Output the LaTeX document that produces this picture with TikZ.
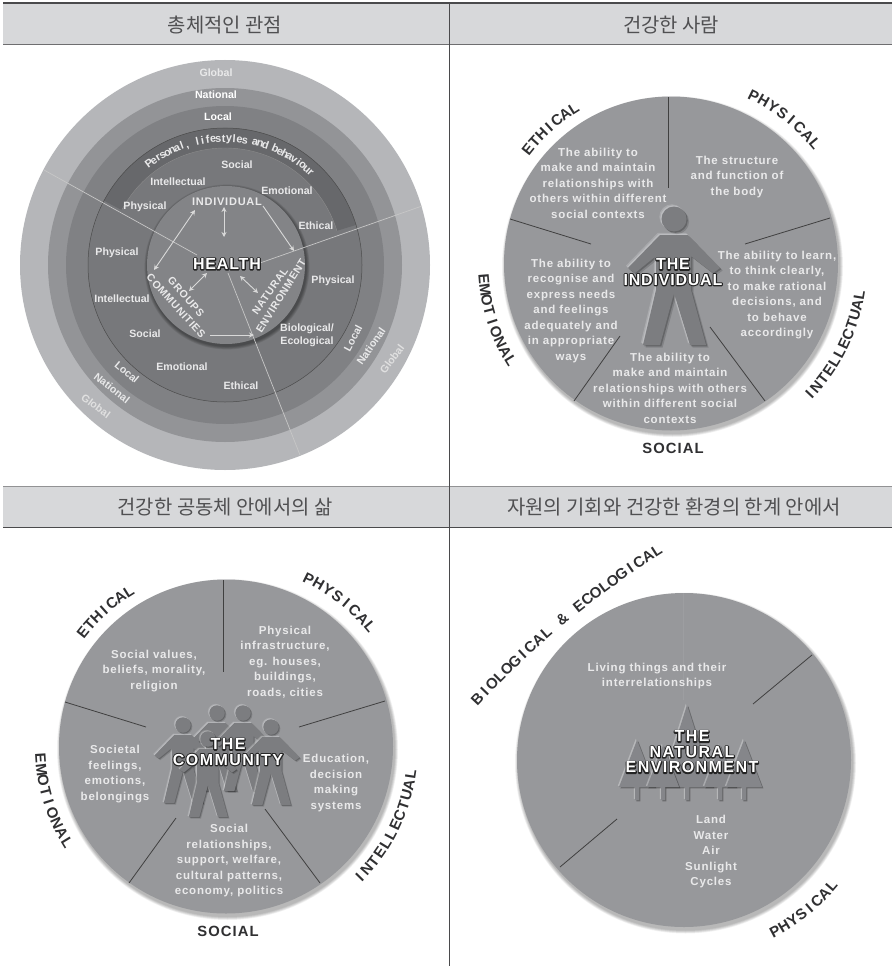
\documentclass[tikz,border=0pt]{standalone}
\usepackage{fontspec}
\usetikzlibrary{arrows.meta}
\setmainfont{Liberation Sans}
\newfontfamily\lab{Liberation Sans}
\newfontfamily\labs{Liberation Sans}[LetterSpace=7]
\newfontfamily\labh{Liberation Sans}[LetterSpace=9]
\newfontfamily\labm{Liberation Sans}[LetterSpace=5]
\newfontfamily\krf{Noto Sans CJK KR}
\definecolor{hdr}{HTML}{D7D8DA}
\definecolor{framec}{HTML}{4A4A4C}
\definecolor{krc}{HTML}{505052}
\definecolor{disc}{HTML}{97989B}
\definecolor{txtc}{HTML}{E9E9EA}
\definecolor{figc}{HTML}{7C7D80}
\definecolor{treec}{HTML}{85868A}
\definecolor{ringA}{HTML}{B5B6B9}
\definecolor{ringB}{HTML}{939497}
\definecolor{ringC}{HTML}{808184}
\definecolor{ringD}{HTML}{67686B}
\definecolor{ringE}{HTML}{77787B}
\definecolor{ringF}{HTML}{838487}
\definecolor{lblc}{HTML}{303032}
\tikzset{
  hdrtxt/.style={font=\krf\fontsize{19.9}{22}\selectfont,text=krc,inner sep=0},
  intxt/.style={font=\labs\bfseries\fontsize{11.5}{15.5}\selectfont,text=txtc,align=center,inner sep=0},
  smtxt/.style={font=\lab\bfseries\fontsize{10.6}{12.8}\selectfont,text=txtc,align=center,inner sep=0},
  captxt/.style={font=\lab\bfseries\fontsize{10.6}{13}\selectfont,text=white,align=center,inner sep=0},
  halotxt/.style={font=\labh\bfseries\fontsize{16}{15.5}\selectfont,text=white,align=center,inner sep=0},
  halotxtn/.style={font=\labm\bfseries\fontsize{16}{15.5}\selectfont,text=white,align=center,inner sep=0},
  outerlbl/.style={font=\labs\bfseries\fontsize{14.8}{15}\selectfont,text=lblc,inner sep=0},
  divider/.style={draw=black!75,line width=0.8pt},
  lightline/.style={draw=white!78!black,line width=0.7pt},
  arrow2/.style={draw=white!85!black,line width=0.9pt,{Stealth[length=5pt,width=5pt]}-{Stealth[length=5pt,width=5pt]}},
  arrow1/.style={draw=white!85!black,line width=0.9pt,-{Stealth[length=5pt,width=5pt]}},
}
\newcommand\shadedisc[4]{%
  \foreach \k in {7,6,5,4,3,2,1}{\fill[black,opacity=0.045] (#1+1.5,#2+3) circle[radius=#3+\k*0.5];}
  \fill[#4] (#1,#2) circle[radius=#3];
}
% letters on an arc: cx,cy,r,startangle,endangle,font,colour,comma list of letters
\newdimen\awtotal \newdimen\awpos \newcount\awn
\newcommand\arcword[8]{%
  \global\awtotal=0pt \global\awn=0
  \foreach \c in {#8}{\setbox0=\hbox{#6\c}\global\advance\awtotal by \wd0 \global\advance\awn by 1 }%
  \pgfmathsetmacro\awL{#3*(abs(#5-(#4))/180)*pi}%
  \pgfmathsetmacro\awT{\the\awtotal}%
  \pgfmathsetmacro\awgap{(\awL-\awT)/\the\awn}%
  \global\awpos=0pt
  \pgfmathsetmacro\awdir{(#5>#4)?90:-90}%
  \foreach \c [count=\ci] in {#8}{%
    \setbox0=\hbox{#6\c}%
    \pgfmathsetmacro\aww{\the\wd0}%
    \pgfmathsetmacro\aws{\the\awpos+\aww/2+\awgap*(\ci-0.5)}%
    \pgfmathsetmacro\awa{#4+(#5-(#4))*(\aws/\awL)}%
    \pgfmathsetmacro\awr{\awa+\awdir}%
    \node[inner sep=0,anchor=base,rotate=\awr,font=#6,text=#7] at ({#1+#3*cos(\awa)},{#2-#3*sin(\awa)}) {\c};
    \global\advance\awpos by \wd0
  }%
}
\newcommand\blb{\lab\bfseries\fontsize{15}{16}\selectfont}
\newcommand\personpath{(0,0) circle[radius=12.5]
  (-14,16)--(14,16)--(46,49)--(39,54)--(17,37)--(17,71)--(32,126)--(16,126)--(0,74)--(-14,126)--(-31,126)--(-18,71)--(-18,37)--(-39,54)--(-46,49)--cycle}
\newcommand\persona[3]{%
  \begin{scope}[shift={(#1,#2)},scale=#3]
    \fill[white,opacity=0.18,shift={(-2.2,-2.2)}] \personpath;
    \fill[white,opacity=0.22,shift={(-1.1,-1.1)}] \personpath;
    \fill[black,opacity=0.14,shift={(2.6,2.6)}] \personpath;
    \fill[black,opacity=0.22,shift={(1.3,1.3)}] \personpath;
    \fill[figc] \personpath;
  \end{scope}}
\newcommand\treeshape[4]{%
  \def\tp{(#1,#2)--(#1+#4,#3)--(#1+2,#3)--(#1+2,#3+13)--(#1-2,#3+13)--(#1-2,#3)--(#1-#4,#3)--cycle}%
  \fill[white,opacity=0.3,shift={(-1.2,-1.2)}] \tp;
  \fill[black,opacity=0.3,shift={(1.4,1.4)}] \tp;
  \fill[treec] \tp;
}
\newcommand\halo[1]{\rlap{\special{pdf:code 2 Tr 2.2 w 0.14 0.14 0.14 RG 0.14 0.14 0.14 rg 1 j}#1\special{pdf:code 0 Tr 0.4 w 0 j 1 1 1 rg}}#1}
\begin{document}
\begin{tikzpicture}[x=1pt,y=-1pt]
\useasboundingbox (0,0) rectangle (892,966);
\fill[white] (0,0) rectangle (892,966);
% ---------- headers and frame
\fill[hdr] (3,4) rectangle (892,44);
\fill[hdr] (3,486) rectangle (892,527);
\coordinate (tl) at (3,3); \coordinate (tr) at (892,3);
\coordinate (ml) at (3,44.5); \coordinate (mr) at (892,44.5);
\coordinate (nl) at (3,486); \coordinate (nr) at (892,486);
\coordinate (ol) at (3,527.5); \coordinate (or) at (892,527.5);
\coordinate (vt) at (449,3); \coordinate (vb) at (449,966);
\draw[framec,line width=1.1pt] (tl)--(tr);
\draw[framec!80,line width=1pt] (ml)--(mr);
\draw[framec!60,line width=0.6pt] (nl)--(nr);
\draw[framec,line width=0.9pt] (ol)--(or);
\draw[framec,line width=0.9pt] (vt)--(vb);
\node[hdrtxt] (h1) at (225,25) {총체적인 관점};
\node[hdrtxt] (h2) at (671,25) {건강한 사람};
\node[hdrtxt] (h3) at (225,507) {건강한 공동체 안에서의 삶};
\node[hdrtxt] (h4) at (674,507) {자원의 기회와 건강한 환경의 한계 안에서};
% ---------- panel 1
\fill[ringA] (225,265) circle[radius=205];
\fill[ringB] (225,265) circle[radius=177];
\fill[ringC] (225,265) circle[radius=159];
\fill[ringE] (225,265) circle[radius=137];
\fill[ringD] ({225+137*cos(152)},{265-137*sin(152)}) arc[start angle=-152,end angle=-17,radius=137]
   -- ({225+117*cos(17)},{265-117*sin(17)}) arc[start angle=-17,end angle=-152,radius=117] -- cycle;
\draw[black!70,line width=0.5pt] (225,265) circle[radius=137];
\draw[black!45,line width=0.4pt] ({225+117*cos(152)},{265-117*sin(152)}) arc[start angle=-152,end angle=-17,radius=117];
\foreach \k in {6,5,4,3,2,1}{\fill[black,opacity=0.07] (227,267) circle[radius=79+\k*0.6];}
\fill[ringF] (226,265) circle[radius=79];
\coordinate (dA1) at (44,170); \coordinate (dA2) at (197,255);
\coordinate (dB1) at (422,206); \coordinate (dB2) at (260,263);
\coordinate (dC1) at (228,273); \coordinate (dC2) at (300,455);
\draw[lightline] (dA1)--(dA2);
\draw[lightline] (dB1)--(dB2);
\draw[lightline] (dC1)--(dC2);
\node[captxt,text=txtc] (p1g) at (216,73) {Global};
\node[captxt] (p1n) at (216,95) {National};
\node[captxt] (p1l) at (218,117) {Local};
\arcword{225}{265}{123}{128}{46}{\lab\bfseries\fontsize{11}{12}\selectfont}{txtc}{P,e,r,s,o,n,a,l,{,},{\ },l,i,f,e,s,t,y,l,e,s,{\ },a,n,d,{\ },b,e,h,a,v,i,o,u,r}
\node[smtxt] (p1a) at (237,165) {Social};
\node[smtxt] (p1b) at (178,182) {Intellectual};
\node[smtxt] (p1c) at (287,191) {Emotional};
\node[smtxt] (p1d) at (145,207) {Physical};
\node[smtxt] (p1e) at (316,226) {Ethical};
\node[smtxt,font=\labs\bfseries\fontsize{11}{13}\selectfont] (indiv) at (227,202) {INDIVIDUAL};
\node[smtxt] (p1f) at (117,253) {Physical};
\node[smtxt] (p1g2) at (333,281) {Physical};
\node[smtxt] (p1h) at (122,299) {Intellectual};
\node[smtxt] (p1i) at (145,334) {Social};
\node[smtxt] (p1j) at (307,335.5) {Biological/\\Ecological};
\node[smtxt] (p1k) at (182,367) {Emotional};
\node[smtxt] (p1m) at (241,386) {Ethical};
\node[smtxt,rotate=-40] (loc1) at (127,372) {Local};
\node[smtxt,rotate=-38] (nat1) at (112,388) {National};
\node[smtxt,rotate=-36,text=white!88!black] (glo1) at (96,406) {Global};
\node[smtxt,rotate=62] (loc2) at (353,338) {Local};
\node[smtxt,rotate=55] (nat2) at (371,346) {National};
\node[smtxt,rotate=53,text=white!88!black] (glo2) at (392,359) {Global};
\node[smtxt,font=\labs\bfseries\fontsize{10.5}{13}\selectfont,rotate=-49] (grp) at (186,297) {GROUPS};
\node[smtxt,font=\labs\bfseries\fontsize{10.5}{13}\selectfont,rotate=-48] (com) at (176,306) {COMMUNITIES};
\node[smtxt,font=\labs\bfseries\fontsize{10.5}{13}\selectfont,rotate=55] (natr) at (270,291) {NATURAL};
\node[smtxt,font=\labs\bfseries\fontsize{10.5}{13}\selectfont,rotate=58] (envr) at (281,296) {ENVIRONMENT};
\coordinate (a1) at (195,210); \coordinate (a2) at (154,270);
\coordinate (b1) at (224,207); \coordinate (b2) at (224,237);
\coordinate (c1) at (263,206); \coordinate (c2) at (294,251);
\coordinate (e1) at (189,291); \coordinate (e2) at (207,273);
\coordinate (f1) at (240,276); \coordinate (f2) at (258,293);
\coordinate (g1) at (210,335); \coordinate (g2) at (254,335);
\draw[arrow2] (a1)--(a2);
\draw[arrow2] (b1)--(b2);
\draw[arrow1] (c1)--(c2);
\draw[arrow2] (e1)--(e2);
\draw[arrow2] (f1)--(f2);
\draw[arrow1] (g1)--(g2);
\node[halotxtn] (health) at (227,264) {\halo{HEALTH}};
% ---------- panel 2
\shadedisc{671}{263.5}{167}{disc}
\coordinate (s1) at (668,97); \coordinate (s2) at (668,188);
\coordinate (s3) at (830,218); \coordinate (s4) at (745,244);
\coordinate (s5) at (765,401); \coordinate (s6) at (710,327);
\coordinate (s7) at (574,401); \coordinate (s8) at (620,336);
\coordinate (s9) at (510,219); \coordinate (s10) at (591,244);
\draw[divider] (s1)--(s2);
\draw[divider] (s3)--(s4);
\draw[divider] (s5)--(s6);
\draw[divider] (s7)--(s8);
\draw[divider] (s9)--(s10);
\persona{674}{219}{1}
\node[intxt] (t2a) at (598,183) {The ability to\\make and maintain\\relationships with\\others within different\\social contexts};
\node[intxt] (t2b) at (737,177) {The structure\\and function of\\the body};
\node[intxt] (t2c) at (777,295) {The ability to learn,\\to think clearly,\\to make rational\\decisions, and\\to behave\\accordingly};
\node[intxt] (t2d) at (571,311) {The ability to\\recognise and\\express needs\\and feelings\\adequately and\\in appropriate\\ways};
\node[intxt] (t2e) at (670,388) {The ability to\\make and maintain\\relationships with others\\within different social\\contexts};
\node[halotxtn] (t2f) at (673,272) {\halo{THE}\\\halo{INDIVIDUAL}};
\arcword{671}{263.5}{178}{143}{120.5}{\blb}{lblc}{E,T,H,I,C,A,L}
\arcword{671}{263.5}{182}{65.5}{38}{\blb}{lblc}{P,H,Y,S,I,C,A,L}
\arcword{671}{263.5}{196}{-45}{-8}{\blb}{lblc}{I,N,T,E,L,L,E,C,T,U,A,L}
\arcword{671}{263.5}{193}{183}{213}{\blb}{lblc}{E,M,O,T,I,O,N,A,L}
\node[outerlbl] (t2g) at (673,448) {SOCIAL};
% ---------- panel 3
\shadedisc{226}{746.5}{167}{disc}
\coordinate (u1) at (223,580); \coordinate (u2) at (223,672);
\coordinate (u3) at (385,701); \coordinate (u4) at (299,727);
\coordinate (u5) at (320,883); \coordinate (u6) at (265,809);
\coordinate (u7) at (129,883); \coordinate (u8) at (176,818);
\coordinate (u9) at (65,702); \coordinate (u10) at (146,727);
\draw[divider] (u1)--(u2);
\draw[divider] (u3)--(u4);
\draw[divider] (u5)--(u6);
\draw[divider] (u7)--(u8);
\draw[divider] (u9)--(u10);
\persona{217}{713}{0.62}
\persona{243}{713}{0.62}
\persona{183}{725}{0.62}
\persona{271}{727}{0.62}
\persona{208}{739}{0.62}
\node[intxt] (t3a) at (154,671) {Social values,\\beliefs, morality,\\religion};
\node[intxt] (t3b) at (285,662) {Physical\\infrastructure,\\eg. houses,\\buildings,\\roads, cities};
\node[intxt] (t3c) at (336,783) {Education,\\decision\\making\\systems};
\node[intxt] (t3d) at (115,774) {Societal\\feelings,\\emotions,\\belongings};
\node[intxt] (t3e) at (229,861) {Social\\relationships,\\support, welfare,\\cultural patterns,\\economy, politics};
\node[halotxt] (t3f) at (228,752) {\halo{THE}\\\halo{COMMUNITY}};
\arcword{226}{746.5}{178}{143}{120.5}{\blb}{lblc}{E,T,H,I,C,A,L}
\arcword{226}{746.5}{182}{65.5}{38}{\blb}{lblc}{P,H,Y,S,I,C,A,L}
\arcword{226}{746.5}{192}{-46}{-7}{\blb}{lblc}{I,N,T,E,L,L,E,C,T,U,A,L}
\arcword{226}{746.5}{191}{182}{213}{\blb}{lblc}{E,M,O,T,I,O,N,A,L}
\node[outerlbl] (t3g) at (228,931) {SOCIAL};
% ---------- panel 4
\shadedisc{684}{760}{167}{disc}
\coordinate (w1) at (812,655); \coordinate (w2) at (753,704);
\coordinate (w3) at (560,867); \coordinate (w4) at (617,819);
\coordinate (w5) at (683,593); \coordinate (w6) at (683,700);
\draw[draw=disc!94!white,line width=0.5pt] (w5)--(w6);
\draw[divider] (w1)--(w2);
\draw[divider] (w3)--(w4);
\treeshape{687}{705}{787}{26}
\treeshape{637}{740}{787}{18}
\treeshape{663}{745}{787}{16}
\treeshape{720}{745}{787}{16}
\treeshape{744}{740}{787}{18}
\node[intxt] (t4a) at (657,676) {Living things and their\\interrelationships};
\node[intxt] (t4b) at (711,852) {Land\\Water\\Air\\Sunlight\\Cycles};
\node[halotxt] (t4c) at (692,752) {\halo{THE}\\\halo{NATURAL}\\\halo{ENVIRONMENT}};
\arcword{1156.5}{1337.5}{927}{137.1}{122.1}{\blb}{lblc}{B,I,O,L,O,G,I,C,A,L,{\ },{\&},{\ },E,C,O,L,O,G,I,C,A,L}
\arcword{684}{760}{199}{-63.5}{-39}{\blb}{lblc}{P,H,Y,S,I,C,A,L}
\end{tikzpicture}
\end{document}
